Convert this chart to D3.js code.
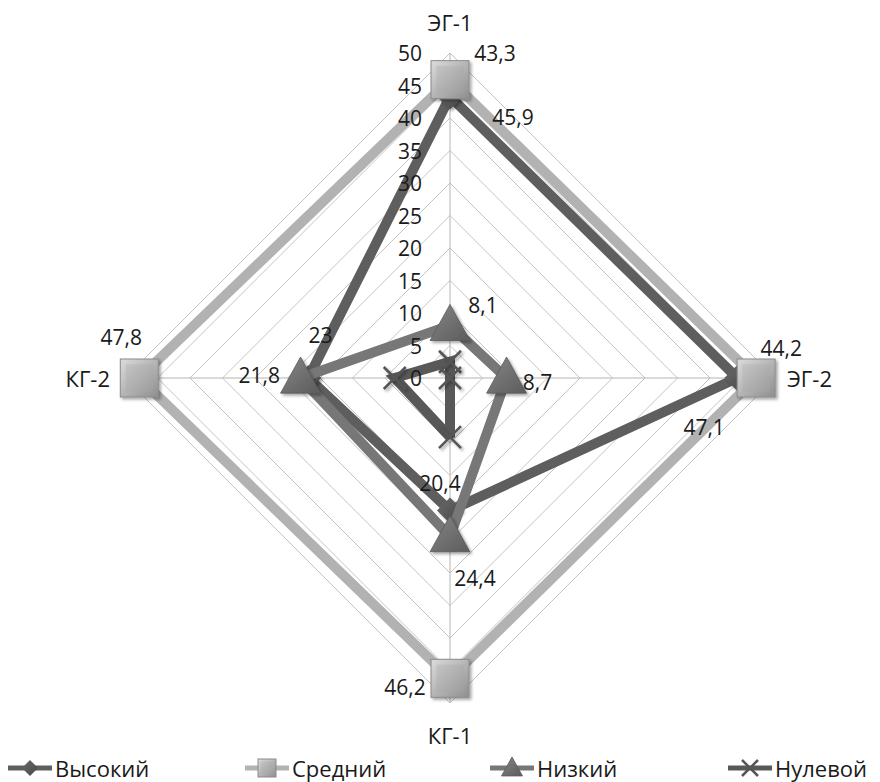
<!DOCTYPE html>
<html>
<head>
<meta charset="utf-8">
<script src="https://cdn.jsdelivr.net/npm/d3@7"></script>
<style>
  html, body { margin: 0; padding: 0; background: #fff; }
  svg { display: block; font-family: "Open Sans", "Noto Sans", sans-serif; }
</style>
</head>
<body>
<svg id="chart" width="880" height="782"></svg>
<script>
// Axes of the radar, clockwise from the top
const categories = ["ЭГ-1", "ЭГ-2", "КГ-1", "КГ-2"];
const seriesNames = ["Высокий", "Средний", "Низкий", "Нулевой"];

// Values per series, in category order
const highValues = [43.3, 44.2, 20.4, 21.8];
const midValues  = [45.9, 47.1, 46.2, 47.8];
const lowValues  = [8.1, 8.7, 24.4, 23];
const zeroValues = [2.5, 0, 9.1, 8.5];

const tickValues = [0, 5, 10, 15, 20, 25, 30, 35, 40, 45, 50];

// Which values carry a printed label, and where the label sits relative to its point
const labelled = [
  { s: 0, c: 0, dx: 45, dy: -44 },
  { s: 1, c: 0, dx: 63, dy: 37 },
  { s: 0, c: 1, dx: 44, dy: -30 },
  { s: 1, c: 1, dx: -52, dy: 49 },
  { s: 0, c: 2, dx: -10, dy: -28 },
  { s: 2, c: 2, dx: 25, dy: 41 },
  { s: 1, c: 2, dx: -45, dy: 9 },
  { s: 1, c: 3, dx: -18, dy: -41 },
  { s: 2, c: 3, dx: 20, dy: -43 },
  { s: 0, c: 3, dx: -49, dy: -3 },
  { s: 2, c: 0, dx: 33, dy: -20 },
  { s: 2, c: 1, dx: 31, dy: 4 }
];

const svg = d3.select("#chart");
const cx = 450, cy = 378;
const r = d3.scaleLinear().domain([0, 50]).range([0, 325]);
const angle = d3.scalePoint().domain(d3.range(categories.length)).range([0, 2 * Math.PI * (categories.length - 1) / categories.length]);

const defs = svg.append("defs");
const shadow = defs.append("filter").attr("id", "shadow")
  .attr("x", "-40%").attr("y", "-40%").attr("width", "180%").attr("height", "180%");
shadow.append("feDropShadow").attr("dx", 2).attr("dy", 2).attr("stdDeviation", 1.8)
  .attr("flood-color", "#000").attr("flood-opacity", 0.35);

function grad(id, c1, c2) {
  const g = defs.append("linearGradient").attr("id", id)
    .attr("x1", "0%").attr("y1", "0%").attr("x2", "100%").attr("y2", "100%");
  g.append("stop").attr("offset", "0%").attr("stop-color", c1);
  g.append("stop").attr("offset", "100%").attr("stop-color", c2);
}
grad("gSquare", "#dcdcdc", "#8e8e8e");
grad("gSquareIn", "#c4c4c4", "#9d9d9d");
grad("gTri", "#858585", "#5c5c5c");
grad("gDia", "#6a6a6a", "#474747");

const series = [
  { name: seriesNames[0], values: highValues, color: "#5e5e5e", marker: "diamond" },
  { name: seriesNames[1], values: midValues,  color: "#b2b2b2", marker: "square" },
  { name: seriesNames[2], values: lowValues,  color: "#777777", marker: "triangle" },
  { name: seriesNames[3], values: zeroValues, color: "#585858", marker: "cross" }
];

const plot = svg.append("g").attr("transform", `translate(${cx},${cy})`);

function pt(i, v) {
  const a = angle(i) - Math.PI / 2;
  return [r(v) * Math.cos(a), r(v) * Math.sin(a)];
}

// Grid rings
const ring = d3.lineRadial()
  .angle((d, i) => angle(i))
  .radius(d => r(d))
  .curve(d3.curveLinearClosed);
plot.append("g").selectAll("path").data(tickValues.filter(t => t > 0)).join("path")
  .attr("d", t => ring(categories.map(() => t)))
  .attr("fill", "none").attr("stroke", "#c4c4c4").attr("stroke-width", 1);

// Spokes
plot.append("g").selectAll("line").data(categories).join("line")
  .attr("x1", 0).attr("y1", 0)
  .attr("x2", (d, i) => pt(i, 50)[0]).attr("y2", (d, i) => pt(i, 50)[1])
  .attr("stroke", "#b4b4b4").attr("stroke-width", 1);

// Category labels
const catPos = [
  { x: 0, y: -356, anchor: "middle" },
  { x: 337, y: 0, anchor: "start" },
  { x: 0, y: 357, anchor: "middle" },
  { x: -340, y: 0, anchor: "end" }
];
plot.append("g").selectAll("text").data(categories).join("text")
  .attr("x", (d, i) => catPos[i].x).attr("y", (d, i) => catPos[i].y)
  .attr("text-anchor", (d, i) => catPos[i].anchor).attr("dominant-baseline", "central")
  .attr("font-size", 22).attr("fill", "#1a1a1a")
  .text(d => d);

// Markers
function drawMarker(g, type, size) {
  if (type === "square") {
    const h = size / 2;
    g.append("rect").attr("x", -h).attr("y", -h).attr("width", size).attr("height", size)
      .attr("fill", "url(#gSquare)").attr("stroke", "#8a8a8a").attr("stroke-width", 1);
    const k = h * 0.72;
    g.append("rect").attr("x", -k).attr("y", -k).attr("width", 2 * k).attr("height", 2 * k)
      .attr("fill", "url(#gSquareIn)");
  } else if (type === "triangle") {
    const w = size * 1.05, hgt = size * 0.95;
    g.append("path").attr("d", `M0,${-hgt * 0.58}L${w / 2},${hgt * 0.42}L${-w / 2},${hgt * 0.42}Z`)
      .attr("fill", "url(#gTri)").attr("stroke", "#5a5a5a").attr("stroke-width", 0.8);
  } else if (type === "diamond") {
    const h = size / 2;
    g.append("path").attr("d", `M0,${-h}L${h},0L0,${h}L${-h},0Z`)
      .attr("fill", "url(#gDia)");
  } else if (type === "cross") {
    const h = size / 2;
    g.append("path").attr("d", `M${-h},${-h}L${h},${h}M${h},${-h}L${-h},${h}`)
      .attr("stroke", "#555").attr("stroke-width", 2.5).attr("fill", "none");
  }
}

const markerSize = { square: 38, triangle: 38, diamond: 26, cross: 22 };

const lineGen = d3.lineRadial()
  .angle((d, i) => angle(i))
  .radius(d => r(d))
  .curve(d3.curveLinearClosed);

series.forEach(s => {
  const g = plot.append("g");
  g.append("path").attr("d", lineGen(s.values))
    .attr("fill", "none").attr("stroke", s.color).attr("stroke-width", 10)
    .attr("stroke-linejoin", "miter").attr("stroke-miterlimit", 2);
  s.values.forEach((v, i) => {
    const [x, y] = pt(i, v);
    const m = g.append("g").attr("transform", `translate(${x},${y})`).attr("filter", "url(#shadow)");
    drawMarker(m, s.marker, markerSize[s.marker]);
  });
});

// Tick labels along the top spoke, above the series
plot.append("g").selectAll("text").data(tickValues).join("text")
  .attr("x", -28).attr("y", t => -r(t))
  .attr("text-anchor", "end").attr("dominant-baseline", "central")
  .attr("font-size", 21).attr("fill", "#1a1a1a")
  .text(t => t);

// Data labels
const fmt = v => String(v).replace(".", ",");
plot.append("g").selectAll("text").data(labelled).join("text")
  .attr("x", d => pt(d.c, series[d.s].values[d.c])[0] + d.dx)
  .attr("y", d => pt(d.c, series[d.s].values[d.c])[1] + d.dy)
  .attr("text-anchor", "middle").attr("dominant-baseline", "central")
  .attr("font-size", 21).attr("fill", "#1a1a1a")
  .text(d => fmt(series[d.s].values[d.c]));

// Legend
const legendX = [8, 245, 490, 728];
const legend = svg.append("g").attr("transform", "translate(0,768)");
series.forEach((s, i) => {
  const g = legend.append("g").attr("transform", `translate(${legendX[i]},0)`);
  g.append("line").attr("x1", 0).attr("x2", 44).attr("y1", 0).attr("y2", 0)
    .attr("stroke", s.color).attr("stroke-width", 5);
  const m = g.append("g").attr("transform", "translate(22,0)");
  drawMarker(m, s.marker, s.marker === "square" ? 18 : (s.marker === "triangle" ? 20 : 16));
  g.append("text").attr("x", 47).attr("y", 0).attr("dominant-baseline", "central")
    .attr("font-size", 22).attr("fill", "#1a1a1a").text(s.name);
});
</script>
</body>
</html>
